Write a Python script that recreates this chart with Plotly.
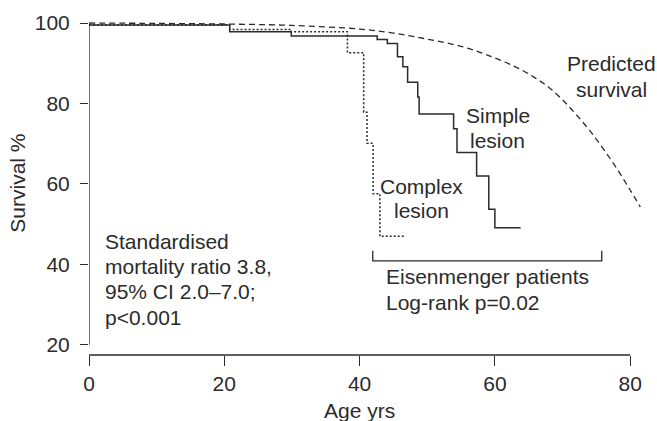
import plotly.graph_objects as go

# ---- data ----
simple_age = [0, 20.8, 29.9, 42.6, 44.1, 45.6, 46.4, 47.1, 48.6, 48.8, 53.9, 54.4, 57.3, 59.1, 60.0, 63.8]
simple_surv = [99.5, 97.8, 96.8, 95.9, 94.9, 91.6, 89.1, 85.3, 81.6, 77.4, 73.7, 67.8, 62.0, 53.7, 49.1, 49.1]

complex_age = [0, 20.8, 29.9, 38.2, 40.6, 41.1, 42.0, 43.0, 46.6]
complex_surv = [99.5, 98.4, 97.8, 92.6, 77.8, 70.1, 57.6, 47.0, 47.0]

pred_age = [0, 10, 20, 30, 40, 45, 50, 55, 58, 60, 62, 64, 66, 68, 70, 72, 74, 76, 78, 80, 81.5]
pred_surv = [100, 99.9, 99.75, 99.4, 98.5, 97.5, 96.0, 94.2, 92.6, 91.3, 89.9, 88.3, 86.3, 84.0, 80.9, 77.3,
             73.3, 68.8, 63.9, 58.5, 54.3]

x_ticks = [0, 20, 40, 60, 80]
y_ticks = [20, 40, 60, 80, 100]

INK = "#2b2b2b"
FONT = "Liberation Sans, Arial, sans-serif"
FS = 21

fig = go.Figure()
fig.add_trace(go.Scatter(x=pred_age, y=pred_surv, mode="lines",
                         line=dict(color=INK, width=1.3, dash="6px,4px", shape="spline"),
                         hoverinfo="skip"))
fig.add_trace(go.Scatter(x=complex_age, y=complex_surv, mode="lines",
                         line=dict(color=INK, width=1.5, dash="2px,2px", shape="hv"), hoverinfo="skip"))
fig.add_trace(go.Scatter(x=simple_age, y=simple_surv, mode="lines",
                         line=dict(color=INK, width=1.5, shape="hv"), hoverinfo="skip"))

# axis lines (detached style)
fig.add_shape(type="line", xref="x", yref="y", x0=0, x1=0, y0=20, y1=100, line=dict(color=INK, width=1.3))
fig.add_shape(type="line", xref="x", yref="paper", x0=0, x1=80, y0=0, y1=0, line=dict(color=INK, width=1.3))
# bracket under Eisenmenger patients
fig.add_shape(type="path", xref="x", yref="y", path="M 41.95,43.4 L 41.95,40.9 L 75.8,40.9 L 75.8,43.4",
              line=dict(color=INK, width=1.3))


def txt(x, y, s, anchor="center"):
    fig.add_annotation(x=x, y=y, xref="x", yref="y", text=s, showarrow=False, xanchor=anchor, yanchor="middle",
                       font=dict(family=FONT, size=FS, color=INK))


txt(2.07, 45.6, "Standardised", "left")
txt(2.07, 39.4, "mortality ratio 3.8,", "left")
txt(2.07, 33.2, "95% CI 2.0\u20137.0;", "left")
txt(2.07, 26.7, "p<0.001", "left")
txt(43.6, 36.9, "Eisenmenger patients", "left")
txt(43.6, 30.6, "Log-rank p=0.02", "left")
txt(60.4, 76.9, "Simple")
txt(60.4, 70.9, "lesion")
txt(49.2, 59.3, "Complex")
txt(49.2, 53.5, "lesion")
txt(77.3, 90.0, "Predicted")
txt(77.3, 83.5, "survival")

fig.add_annotation(x=-0.1295, y=60.2, xref="paper", yref="y", text="Survival %", textangle=-90, showarrow=False,
                   xanchor="center", yanchor="middle", font=dict(family=FONT, size=FS, color=INK))
fig.add_annotation(x=40, y=-0.165, xref="x", yref="paper", text="Age yrs", showarrow=False,
                   xanchor="center", yanchor="middle", font=dict(family=FONT, size=FS, color=INK))

fig.update_layout(
    width=657, height=421,
    margin=dict(l=89, r=16, t=21, b=66),
    plot_bgcolor="white", paper_bgcolor="white",
    showlegend=False,
    font=dict(family=FONT, size=FS, color=INK),
    xaxis=dict(range=[0, 81.6], tickvals=x_ticks, ticktext=[str(v) for v in x_ticks], ticks="outside",
               ticklen=10, tickwidth=1.3, tickcolor=INK, showline=False, showgrid=False, zeroline=False,
               tickfont=dict(family=FONT, size=FS, color=INK)),
    yaxis=dict(range=[17.5, 100.5], tickvals=y_ticks, ticktext=[str(v) for v in y_ticks], ticks="outside",
               ticklen=8, tickwidth=1.3, tickcolor=INK, showline=False, showgrid=False, zeroline=False,
               ticklabelstandoff=6, tickfont=dict(family=FONT, size=FS, color=INK)),
)

# remove the browser's default 8px body margin so the figure fills the window exactly; hide the modebar
fig.write_html("out.html", config={"displayModeBar": False},
               post_script="document.body.style.margin='0px';")
